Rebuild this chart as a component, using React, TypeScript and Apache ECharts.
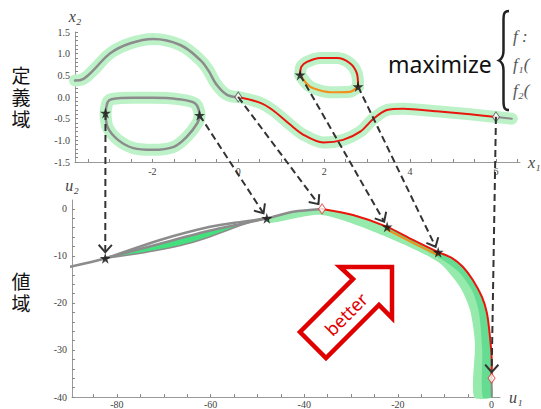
import React, { useEffect, useRef } from "react";
import * as echarts from "echarts";

// ---------- tick labels ----------
const topXLabels = [-2, 0, 2, 4, 6];
const topYLabels = [-1.5, -1.0, -0.5, 0, 0.5, 1.0, 1.5];
const botXLabels = [-80, -60, -40, -20, 0];
const botYLabels = [-40, -30, -20, -10, 0];

// ---------- decision space (x1, x2) ----------
const topGrayX = [-3.8, -3.6, -3.37, -2.98, -2.51, -1.98, -1.35, -0.88, -0.7, -0.5, -0.26, 0];
const topGrayY = [0.38, 0.42, 0.62, 1.01, 1.24, 1.34, 1.2, 0.85, 0.62, 0.28, 0.05, 0];

const loopX = [-3.09, -3.04, -2.95, -2.44, -2.0, -1.4, -1.0, -0.9, -0.95, -1.2, -1.5, -2.0, -2.44, -2.8, -3.04, -3.09];
const loopY = [-0.37, -0.12, -0.05, -0.02, -0.02, -0.05, -0.15, -0.42, -0.6, -0.92, -1.15, -1.22, -1.18, -0.99, -0.7, -0.37];

const redX = [0, 0.5, 0.8, 1.2, 1.5, 1.98, 2.44, 2.84, 3.15, 3.46, 3.84, 4.62, 5.4, 6.0];
const redY = [0, -0.13, -0.3, -0.63, -0.86, -1.05, -0.99, -0.8, -0.5, -0.3, -0.27, -0.33, -0.4, -0.46];

const tailX = [6.0, 6.37];
const tailY = [-0.46, -0.5];

const arcRedX = [1.44, 1.47, 1.6, 1.91, 2.3, 2.6, 2.76, 2.79];
const arcRedY = [0.51, 0.7, 0.81, 0.9, 0.9, 0.78, 0.55, 0.24];
const arcOrX = [1.44, 1.6, 1.75, 2.14, 2.6, 2.79];
const arcOrY = [0.51, 0.3, 0.2, 0.11, 0.12, 0.24];

const topStarX = [-3.09, -0.9, 1.44, 2.79];
const topStarY = [-0.37, -0.42, 0.51, 0.24];
const topDiaX = [0, 6.0];
const topDiaY = [0, -0.46];

// ---------- objective space (u1, u2) ----------
const upGrayX = [-90, -82.5, -70.8, -60.1, -53.1, -48, -42.4, -36.2];
const upGrayY = [-12.3, -10.5, -6.6, -3.8, -2.7, -2.0, -0.6, 0];
const midGrayX = [-82.5, -70.8, -60.1, -53.1, -48];
const midGrayY = [-10.5, -7.4, -4.6, -3.1, -2.0];
const lowGrayX = [-82.5, -76, -70.8, -65, -60.1, -54.4, -51, -48];
const lowGrayY = [-10.5, -9.6, -8.7, -7.4, -5.9, -3.8, -2.7, -2.0];

const frontX = [-36.2, -29.6, -22.3, -16.8, -11.4, -8.5, -6.1, -4.0, -2.05, -1.0, -0.34, 0.05, 0];
const frontY = [0, -1.3, -3.8, -6.6, -9.2, -10.4, -12.35, -15.1, -18.7, -22.1, -27.2, -32.8, -36];
const botTailX = [0, 0.05];
const botTailY = [-36, -40];
const orangeX = [-22.3, -16.8, -11.4];
const orangeY = [-4.4, -7.2, -9.8];

const bandOuterX = [-3.75, -3.55, -4.6, -6.75, -11.4, -22.3, -36.2, -47.3];
const bandOuterY = [-40, -28.5, -21.5, -16.6, -11.3, -6.0, -1.3, -3.0];
const darkEdgeX = [-1.9, -2.0, -2.7, -4.1, -6.9, -11.4, -22.3];
const darkEdgeY = [-40, -30, -22, -17.5, -13.5, -10.3, -4.5];

const botStarX = [-82.5, -48, -22.3, -11.4];
const botStarY = [-10.5, -2.0, -3.8, -9.2];
const botDiaX = [-36.2, 0];
const botDiaY = [0, -36];

// mapping: decision point -> objective point (indices into stars / diamonds)
const mapFrom = [["s", 0], ["s", 1], ["d", 0], ["s", 2], ["s", 3], ["d", 1]];

const STAR = "path://M50,2 L61,37 L98,37 L68,59 L79,94 L50,72 L21,94 L32,59 L2,37 L39,37 Z";
const BRACE = "M10,0 C5,0 4.5,3 4.5,10 L4.5,40 C4.5,46 3,48.5 0,50 C3,51.5 4.5,54 4.5,60 L4.5,90 C4.5,97 5,100 10,100";

const zip = (xs: number[], ys: number[]) => xs.map((x, i) => [x, ys[i]]);

const range = (a: number, b: number, s: number) => {
  const out: number[] = [];
  for (let v = a; v <= b + 1e-9; v += s) out.push(Math.round(v * 1000) / 1000);
  return out;
};

const serifLabel = { fontFamily: "'Liberation Serif', 'DejaVu Serif', serif", fontSize: 10, color: "#444" };
const axisNameStyle = { fontFamily: "'Liberation Serif', 'DejaVu Serif', serif", fontStyle: "italic", fontSize: 16, color: "#444" };

function lineS(g: number, xs: number[], ys: number[], color: string, width: number, z: number, smooth = 0.3) {
  return {
    type: "line", xAxisIndex: g, yAxisIndex: g, data: zip(xs, ys), showSymbol: false, smooth,
    lineStyle: { color, width, join: "round", cap: "round" }, silent: true, z,
  };
}

function polyS(g: number, xs: number[], ys: number[], color: string, z: number) {
  return {
    type: "custom", xAxisIndex: g, yAxisIndex: g, coordinateSystem: "cartesian2d",
    data: [[xs[0], ys[0]]], silent: true, z,
    renderItem: (_p: any, api: any) => ({
      type: "polygon",
      shape: { points: xs.map((x, i) => api.coord([x, ys[i]])), smooth: 0.25 },
      style: { fill: color },
    }),
  };
}

function axisX(g: number, min: number, max: number, labels: number[], ticks: number[], name: string, gap: number, fmt: (v: number) => string, margin: number) {
  return {
    gridIndex: g, type: "value", min, max, position: "bottom",
    name, nameLocation: "end", nameGap: gap, nameTextStyle: axisNameStyle,
    axisLine: { show: true, onZero: false, lineStyle: { color: "#999", width: 1 } },
    axisTick: { show: true, inside: true, length: 3, customValues: ticks, lineStyle: { color: "#888" } },
    axisLabel: { ...serifLabel, customValues: labels, formatter: fmt, margin },
    splitLine: { show: false },
  };
}
function axisY(g: number, min: number, max: number, labels: number[], ticks: number[], name: string, gap: number, fmt: (v: number) => string) {
  return {
    gridIndex: g, type: "value", min, max, position: "left",
    name, nameLocation: "end", nameGap: gap, nameTextStyle: { ...axisNameStyle, align: "center" },
    axisLine: { show: true, onZero: false, lineStyle: { color: "#999", width: 1 } },
    axisTick: { show: true, inside: true, length: 3, customValues: ticks, lineStyle: { color: "#888" } },
    axisLabel: { ...serifLabel, customValues: labels, formatter: fmt, margin: 5 },
    splitLine: { show: false },
  };
}

const GREEN_TOP = "#bdf2c9";
const RED = "#e8160c";
const GRAY = "#8c8c8c";

export default function App() {
  const ref = useRef<HTMLDivElement>(null);
  useEffect(() => {
    if (!ref.current) return;
    try {
      echarts.graphic.registerShape("brace", echarts.graphic.extendPath(BRACE, {}));
    } catch (e) { /* already registered */ }
    const chart = echarts.init(ref.current, null, { renderer: "svg" });

    const series: any[] = [
      // top green bands
      lineS(0, topGrayX, topGrayY, GREEN_TOP, 12, 1, 0.4),
      lineS(0, redX, redY, GREEN_TOP, 12, 1),
      lineS(0, tailX, tailY, GREEN_TOP, 12, 1, 0),
      lineS(0, loopX, loopY, GREEN_TOP, 12, 1),
      lineS(0, arcRedX, arcRedY, GREEN_TOP, 12, 1),
      lineS(0, arcOrX, arcOrY, GREEN_TOP, 12, 1),
      // top curves
      lineS(0, topGrayX, topGrayY, GRAY, 2.5, 3, 0.4),
      lineS(0, loopX, loopY, GRAY, 2.5, 3),
      lineS(0, tailX, tailY, GRAY, 2, 3, 0),
      lineS(0, redX, redY, RED, 2, 4),
      lineS(0, arcOrX, arcOrY, "#f39019", 2.2, 4),
      lineS(0, arcRedX, arcRedY, RED, 2, 4),
      // bottom bands
      polyS(1, [...frontX, ...botTailX.slice(1), ...bandOuterX, -48, -42.4], [...frontY, ...botTailY.slice(1), ...bandOuterY, -2.0, -0.6], "#96eaab", 1),
      polyS(1, [...frontX.slice(2), ...botTailX.slice(1), ...darkEdgeX], [...frontY.slice(2), ...botTailY.slice(1), ...darkEdgeY], "#66dc92", 1),
      polyS(1, [...midGrayX, ...lowGrayX.slice().reverse()], [...midGrayY, ...lowGrayY.slice().reverse()], "#45e07e", 1),
      // bottom curves
      lineS(1, lowGrayX, lowGrayY, GRAY, 1.5, 3),
      lineS(1, midGrayX, midGrayY, GRAY, 2.5, 3),
      lineS(1, upGrayX, upGrayY, GRAY, 2.5, 3),
      lineS(1, botTailX, botTailY, GRAY, 2, 3, 0),
      lineS(1, orangeX, orangeY, "#f39019", 2, 4),
      lineS(1, frontX, frontY, RED, 2, 4),
    ];
    const sTopStars = series.length;
    series.push({
      type: "scatter", xAxisIndex: 0, yAxisIndex: 0, data: zip(topStarX, topStarY),
      symbol: STAR, symbolSize: 11, itemStyle: { color: "#111" }, z: 6, silent: true,
    });
    series.push({
      type: "scatter", xAxisIndex: 0, yAxisIndex: 0, data: zip(topDiaX, topDiaY),
      symbol: "diamond", symbolSize: [7, 10], itemStyle: { color: "#fff", borderColor: "#555", borderWidth: 1 }, z: 6, silent: true,
    });
    const sBotStars = series.length;
    series.push({
      type: "scatter", xAxisIndex: 1, yAxisIndex: 1, data: zip(botStarX, botStarY),
      symbol: STAR, symbolSize: 11, itemStyle: { color: "#111" }, z: 6, silent: true,
    });
    series.push({
      type: "scatter", xAxisIndex: 1, yAxisIndex: 1, data: zip(botDiaX, botDiaY),
      symbol: "diamond", symbolSize: [7, 10], itemStyle: { color: "#fff", borderColor: "#d33", borderWidth: 1 }, z: 6, silent: true,
    });

    chart.setOption({
      animation: false,
      backgroundColor: "#fff",
      grid: [
        { left: 75, right: 21, top: 32, bottom: 247, outerBoundsMode: "none" },
        { left: 72, right: 41, top: 200, bottom: 12, outerBoundsMode: "none" },
      ],
      xAxis: [
        axisX(0, -3.8, 6.56, topXLabels, range(-3.5, 6.5, 0.5), "x\u2081", 8, (v) => String(v), 4),
        axisX(1, -89.6, 1.8, botXLabels, range(-85, 0, 5), "u\u2081", 9, (v) => String(v), 2),
      ],
      yAxis: [
        axisY(0, -1.5, 1.5, topYLabels, range(-1.5, 1.5, 0.1), "x\u2082", 8, (v) => v.toFixed(1)),
        axisY(1, -40, 1.9, botYLabels, range(-40, 0, 2), "u\u2082", 7, (v) => String(v)),
      ],
      series,
    });

    // arrows from decision space to objective space
    const arrows: any[] = [];
    mapFrom.forEach(([kind, idx], i) => {
      const k = idx as number;
      const a = kind === "s" ? [topStarX[k], topStarY[k]] : [topDiaX[k], topDiaY[k]];
      const b = kind === "s" ? [botStarX[k], botStarY[k]] : [botDiaX[k], botDiaY[k]];
      const p0 = chart.convertToPixel({ seriesIndex: sTopStars }, a) as number[];
      const p1 = chart.convertToPixel({ seriesIndex: sBotStars }, b) as number[];
      const dx = p1[0] - p0[0], dy = p1[1] - p0[1];
      const L = Math.hypot(dx, dy);
      const ux = dx / L, uy = dy / L;
      const ex = p1[0] - ux * 6, ey = p1[1] - uy * 6;
      const bx = -ux, by = -uy, ang = 0.72, len = 10;
      const h1 = [ex + len * (bx * Math.cos(ang) - by * Math.sin(ang)), ey + len * (bx * Math.sin(ang) + by * Math.cos(ang))];
      const h2 = [ex + len * (bx * Math.cos(-ang) - by * Math.sin(-ang)), ey + len * (bx * Math.sin(-ang) + by * Math.cos(-ang))];
      arrows.push({
        type: "line", id: "al" + i, z: 20,
        shape: { x1: p0[0], y1: p0[1], x2: ex, y2: ey },
        style: { stroke: "#333", lineWidth: 2, lineDash: [7, 4] },
      });
      arrows.push({
        type: "polyline", id: "ah" + i, z: 20,
        shape: { points: [h1, [ex, ey], h2] },
        style: { stroke: "#333", lineWidth: 2, fill: null },
      });
    });

    const cjk = "'Noto Sans CJK JP', 'Noto Sans CJK SC', sans-serif";
    const cjkStyle = { fontSize: 19, lineHeight: 19, fontFamily: cjk, align: "center", verticalAlign: "middle", fill: "#111" };
    const fStyle = { fontFamily: "'Liberation Serif', 'DejaVu Serif', serif", fontStyle: "italic", fontSize: 17, fill: "#555" };
    chart.setOption({
      graphic: [
        { type: "text", id: "c1", x: 21, y: 74, style: { ...cjkStyle, text: "定" } },
        { type: "text", id: "c2", x: 21, y: 96, style: { ...cjkStyle, text: "義" } },
        { type: "text", id: "c3", x: 21, y: 118, style: { ...cjkStyle, text: "域" } },
        { type: "text", id: "c4", x: 21, y: 280, style: { ...cjkStyle, text: "値" } },
        { type: "text", id: "c5", x: 21, y: 302, style: { ...cjkStyle, text: "域" } },
        { type: "text", id: "t3", x: 388, y: 64, style: { text: "maximize", fontSize: 23, fontFamily: "'Noto Sans', sans-serif", align: "left", verticalAlign: "middle", fill: "#111" } },
        { type: "brace", id: "br", x: 499, y: 11, scaleX: 1, scaleY: 0.99, style: { fill: null, stroke: "#222", lineWidth: 2.5 } },
        { type: "text", id: "f0", x: 513, y: 36, style: { ...fStyle, text: "f :", verticalAlign: "middle" } },
        { type: "text", id: "f1", x: 513, y: 64, style: { ...fStyle, text: "f\u2081(", verticalAlign: "middle" } },
        { type: "text", id: "f2", x: 513, y: 90, style: { ...fStyle, text: "f\u2082(", verticalAlign: "middle" } },
        {
          type: "polygon", id: "bt", z: 15,
          shape: { points: [[340, 267], [392, 267], [392, 318], [379, 305], [326, 358], [300, 332], [353, 279]] },
          style: { fill: "#fff", stroke: "#e00000", lineWidth: 4.5, lineJoin: "miter" },
        },
        { type: "text", id: "btt", z: 16, x: 346, y: 314, rotation: Math.PI / 4, style: { text: "better", fontSize: 18, fontFamily: "'Noto Sans', sans-serif", fill: "#e00000", align: "center", verticalAlign: "middle" } },
        ...arrows,
      ],
    });

    return () => chart.dispose();
  }, []);
  return <div ref={ref} style={{ position: "fixed", left: 0, top: 0, width: 541, height: 409, background: "#fff" }} />;
}
